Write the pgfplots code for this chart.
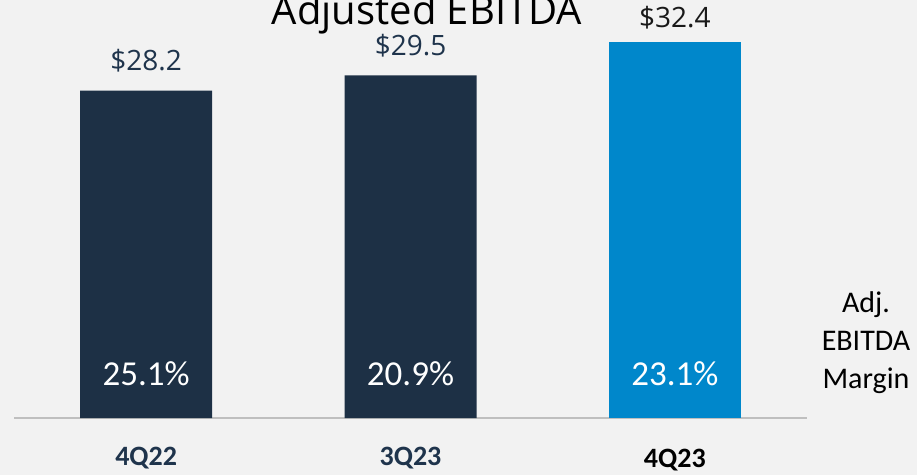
\documentclass[border=0pt]{standalone}
\usepackage{fontspec}
\setmainfont{Carlito}
\newfontfamily\osans{Open Sans}
\usepackage{pgfplots}
\pgfplotsset{compat=1.18}
\definecolor{bg}{HTML}{F2F2F2}
\definecolor{navy}{HTML}{1D3045}
\definecolor{bblue}{HTML}{0087CB}
\definecolor{lblnavy}{HTML}{1F344C}
\definecolor{axgray}{HTML}{BFBFBF}
\begin{document}
\begin{tikzpicture}[x=1pt,y=1pt]
\path[use as bounding box, fill=bg] (0,0) rectangle (917,475);
\clip (0,0) rectangle (917,475);
\begin{axis}[
  at={(14pt,57pt)}, anchor=south west,
  scale only axis, width=793pt, height=418pt,
  xmin=-0.5, xmax=2.5, ymin=0, ymax=36,
  axis x line=bottom, axis y line=none,
  x axis line style={-, draw=axgray, line width=2pt},
  xtick={0,1,2},
  xticklabels={\textcolor{lblnavy}{4Q22},\textcolor{lblnavy}{3Q23},\raisebox{-2pt}{\textcolor{black}{4Q23}}},
  major tick length=0pt,
  xticklabel style={font=\bfseries\fontsize{28}{32}\selectfont, anchor=base, yshift=-47pt},
  ytick=\empty,
  ybar, bar width=132pt, bar shift=0pt,
  point meta=explicit symbolic,
  nodes near coords,
  nodes near coords style={font=\osans\fontsize{28}{32}\selectfont, anchor=base, yshift=20pt},
  clip=false,
]
\addplot[fill=navy, draw=none, nodes near coords style={text=lblnavy}] coordinates {(0,28.2) [\$28.2] (1,29.5) [\$29.5]};
\addplot[fill=bblue, draw=none, nodes near coords style={text=black!90, yshift=-6pt}] coordinates {(2,32.4) [\$32.4]};
\node[anchor=base, text=white, font=\fontsize{35}{40}\selectfont] at (axis cs:0,0) [yshift=33pt] {25.1\%};
\node[anchor=base, text=white, font=\fontsize{35}{40}\selectfont] at (axis cs:1,0) [yshift=33pt] {20.9\%};
\node[anchor=base, text=white, font=\fontsize{35}{40}\selectfont] at (axis cs:2,0) [yshift=33pt] {23.1\%};
\end{axis}
\node[font=\osans\fontsize{40}{44}\selectfont, anchor=base] at (427,450) {Adjusted EBITDA};
\node[font=\fontsize{30}{38}\selectfont, align=center, anchor=center] at (866,132) {Adj.\\EBITDA\\Margin};
\end{tikzpicture}
\end{document}
